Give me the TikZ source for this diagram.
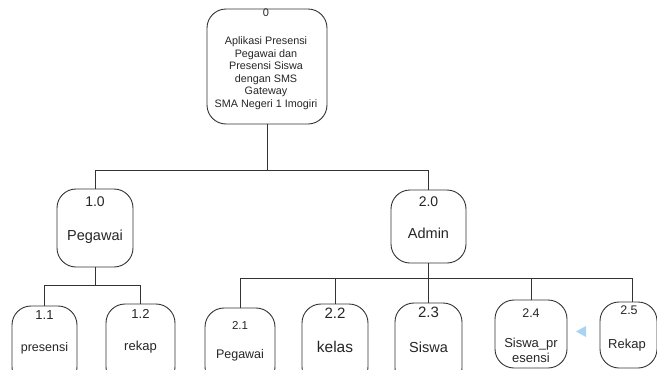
\documentclass[tikz,border=0pt]{standalone}
\usepackage{fontspec}
\setmainfont{Liberation Sans}
\begin{document}
\begin{tikzpicture}[x=1pt,y=-1pt,
  box/.style={draw=black!80, line width=0.9pt, rounded corners=19pt, inner sep=0pt, fill=white},
  wire/.style={draw=black!80, line width=0.9pt},
  txt/.style={text=black!85, inner sep=0pt, align=center},
  fs/.style={font=\fontsize{#1}{#1}\selectfont}
]
\useasboundingbox (0,0) rectangle (657,370);
\clip (0,0) rectangle (657,370);

% root process
\node[box, minimum width=120pt, minimum height=115pt] (root) at (267,66.5) {};
\node[txt, fs=11] (rootnum) at (266,13) {0};
\node[txt, font=\fontsize{10.8}{12.5}\selectfont] (roottxt) at (266,73)
  {Aplikasi Presensi\\Pegawai dan\\Presensi Siswa\\dengan SMS\\Gateway\\SMA Negeri 1 Imogiri};

% level 1
\node[box, minimum width=76pt, minimum height=78pt] (peg) at (95,228) {};
\node[txt, fs=14] (pegnum) at (95,202) {1.0};
\node[txt, fs=14.5] (pegtxt) at (95,237) {Pegawai};

\node[box, minimum width=75pt, minimum height=73pt] (adm) at (428.5,226.5) {};
\node[txt, fs=14] (admnum) at (428.5,202) {2.0};
\node[txt, fs=14.5] (admtxt) at (428.5,233) {Admin};

% level 2 under Pegawai
\node[box, minimum width=65pt, minimum height=80pt] (b11) at (44.5,346) {};
\node[txt, fs=13] (b11num) at (44.5,315) {1.1};
\node[txt, fs=12.5] (b11txt) at (44.5,348) {presensi};

\node[box, minimum width=69pt, minimum height=82pt] (b12) at (140.5,345) {};
\node[txt, fs=13] (b12num) at (140.5,314) {1.2};
\node[txt, fs=13] (b12txt) at (140.5,347) {rekap};

% level 2 under Admin
\node[box, minimum width=70pt, minimum height=78pt] (b21) at (240,347) {};
\node[txt, fs=11.5] (b21num) at (240,325) {2.1};
\node[txt, fs=12.5] (b21txt) at (240,355) {Pegawai};

\node[box, minimum width=66pt, minimum height=82pt] (b22) at (335,345) {};
\node[txt, fs=15] (b22num) at (335,313) {2.2};
\node[txt, fs=15.5] (b22txt) at (335,347) {kelas};

\node[box, minimum width=67pt, minimum height=84pt] (b23) at (428.5,345) {};
\node[txt, fs=15] (b23num) at (428.5,312) {2.3};
\node[txt, fs=14.5] (b23txt) at (428.5,347) {Siswa};

\node[box, minimum width=72pt, minimum height=68pt] (b24) at (531,334) {};
\node[txt, fs=12.5] (b24num) at (531,313) {2.4};
\node[txt, font=\fontsize{13}{15}\selectfont] (b24txt) at (531,350.5) {Siswa\_pr\\esensi};

\node[box, minimum width=57pt, minimum height=66pt] (b25) at (628.5,335) {};
\node[txt, fs=12.5] (b25num) at (629,310) {2.5};
\node[txt, fs=13] (b25txt) at (627,345) {Rekap};

% small marker between 2.4 and 2.5
\fill[fill={rgb,255:red,166;green,212;blue,242}] (576,331.5) -- (586,326) -- (586,337) -- cycle;

% junctions
\coordinate (j0) at (267,170);
\coordinate (jp) at (95,170);
\coordinate (ja) at (428.5,170);
\coordinate (k1) at (95,285);
\coordinate (k11) at (44.5,285);
\coordinate (k12) at (140.5,285);
\coordinate (m1) at (428.5,278);
\coordinate (m21) at (240,278);
\coordinate (m25) at (632,278);

% connectors
\draw[wire] (root.south) -- (j0);
\draw[wire] (jp) -- (ja);
\draw[wire] (jp) -- (peg.north);
\draw[wire] (ja) -- (adm.north);

\draw[wire] (peg.south) -- (k1);
\draw[wire] (k11) -- (k12);
\draw[wire] (k11) -- (b11.north);
\draw[wire] (k12) -- (b12.north);

\draw[wire] (adm.south) -- (m1);
\draw[wire] (m21) -- (m25);
\draw[wire] (m21) -- (b21.north);
\draw[wire] (m1 -| b22.north) -- (b22.north);
\draw[wire] (m1) -- (b23.north);
\draw[wire] (m1 -| b24.north) -- (b24.north);
\draw[wire] (m25) -- (m25 |- b25.north);
\end{tikzpicture}
\end{document}
